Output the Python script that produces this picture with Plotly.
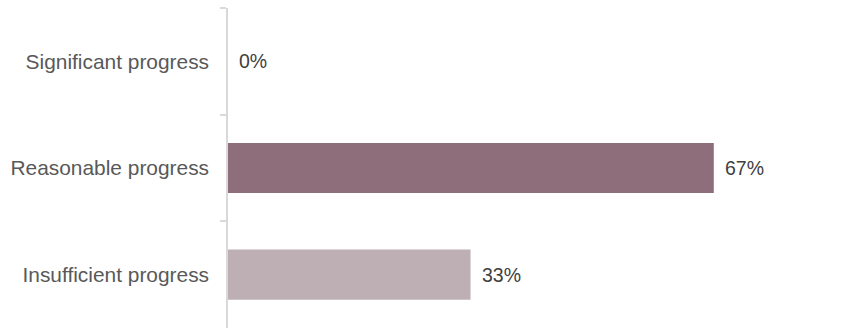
import plotly.graph_objects as go

categories = ["Significant progress", "Reasonable progress", "Insufficient progress"]
values = [0, 66.7, 33.3]
labels = ["0%", "67%", "33%"]
colors = ["#8E6E7A", "#8E6E7A", "#BEAFB4"]

fig = go.Figure()
fig.add_trace(go.Bar(
    x=values, y=categories, orientation="h",
    marker=dict(color=colors, line=dict(width=0)),
    width=0.47, hoverinfo="skip",
))
for c, v, t in zip(categories, values, labels):
    fig.add_annotation(x=v, y=c, text=t, showarrow=False, xanchor="left",
                       xshift=9, font=dict(size=19.5, color="#404040",
                                           family="Liberation Sans, Arial, sans-serif"))

fig.update_layout(
    width=858, height=333,
    margin=dict(l=228, r=0, t=8, b=5),
    paper_bgcolor="white", plot_bgcolor="white",
    showlegend=False,
    font=dict(family="Liberation Sans, Arial, sans-serif", size=18, color="#595959"),
    xaxis=dict(range=[0, 86.5], visible=False, fixedrange=True),
    yaxis=dict(categoryorder="array", categoryarray=categories, autorange="reversed",
               showline=True, linecolor="#D9D9D9", linewidth=1.5,
               ticks="outside", tickson="boundaries", ticklen=6, tickcolor="#D9D9D9",
               tickwidth=1.5, showgrid=False, ticklabelstandoff=13,
               tickfont=dict(size=20.9, color="#595959")),
)
fig.write_html("out.html")
